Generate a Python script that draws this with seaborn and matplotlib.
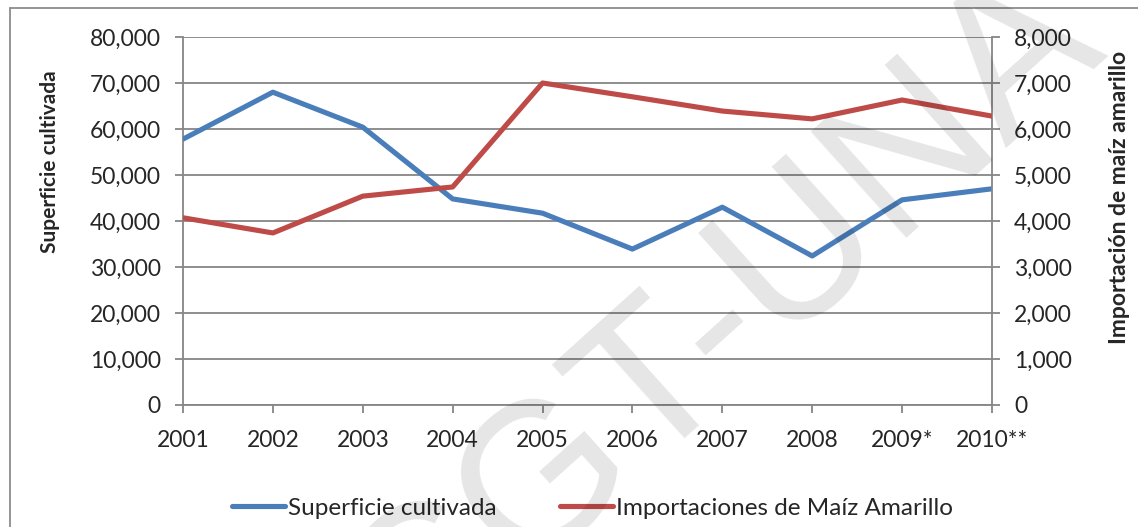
import pandas as pd
import numpy as np
import matplotlib.pyplot as plt
import seaborn as sns
from matplotlib.lines import Line2D
from matplotlib.ticker import FuncFormatter

years      = ["2001", "2002", "2003", "2004", "2005", "2006", "2007", "2008", "2009*", "2010**"]
superficie = [57800, 68000, 60400, 44800, 41700, 33900, 43000, 32400, 44600, 47000]
importac   = [4070, 3740, 4540, 4740, 7000, 6700, 6390, 6220, 6630, 6280]

frame = pd.DataFrame({"year": years, "pos": range(len(years)),
                      "superficie": superficie, "importacion": importac})

sns.set_style("white")
plt.rcParams['font.family'] = ['Lato', 'DejaVu Sans']

blue = "#4a7ebb"
red  = "#be4b48"
grid = "#868686"

fig = plt.figure(figsize=(11.38, 5.27), dpi=100)
ax = fig.add_axes([0.1608, 0.2315, 0.8717 - 0.1608, 0.9298 - 0.2315])
ax2 = ax.twinx()

sns.lineplot(data=frame, x="pos", y="superficie", color=blue, lw=3.7, ax=ax, zorder=3)
sns.lineplot(data=frame, x="pos", y="importacion", color=red, lw=3.7, ax=ax2, zorder=3)

ax.set_xlim(0, len(years) - 1)
ax.set_ylim(0, 80000)
ax2.set_ylim(0, 8000)
ax.set_yticks(np.arange(0, 80001, 10000))
ax2.set_yticks(np.arange(0, 8001, 1000))
fmt = FuncFormatter(lambda v, p: "{:,.0f}".format(v))
ax.yaxis.set_major_formatter(fmt)
ax2.yaxis.set_major_formatter(fmt)
ax.set_xticks(range(len(years)))
ax.set_xticklabels(years)

ax.grid(axis="y", color=grid, lw=1.3)
ax.set_axisbelow(True)
for a in (ax, ax2):
    for s in a.spines.values():
        s.set_visible(False)
    a.set_xlabel("")
    a.set_ylabel("")
ax.spines["left"].set_visible(True)
ax.spines["bottom"].set_visible(True)
ax2.spines["right"].set_visible(True)
for s in (ax.spines["left"], ax.spines["bottom"], ax2.spines["right"]):
    s.set_color(grid)
    s.set_linewidth(1.3)

ax.tick_params(axis="y", left=True, length=6, width=1.3, color=grid, pad=10, labelsize=16.5)
ax.tick_params(axis="x", bottom=True, length=6, width=1.3, color=grid, pad=12, labelsize=16.5)
ax2.tick_params(axis="y", right=True, length=6, width=1.3, color=grid, pad=10, labelsize=16.5)

fig.text(0.044, 0.693, "Superficie cultivada", rotation=90, ha="center", va="center",
         fontsize=15, fontweight="bold")
fig.text(0.984, 0.625, "Importación de maíz amarillo", rotation=90, ha="center", va="center",
         fontsize=16.5, fontweight="bold")

handles = [Line2D([], [], color=blue, lw=3.7), Line2D([], [], color=red, lw=3.7)]
fig.legend(handles, ["Superficie cultivada", "Importaciones de Maíz Amarillo"],
           loc="center", bbox_to_anchor=(0.5205, 0.036), ncol=2, frameon=False,
           fontsize=17.5, handlelength=2.2, handletextpad=0.1, columnspacing=2.6)

# chart border (Excel chart area)
fig.add_artist(Line2D([10 / 1138, 10 / 1138], [0, 1 - 8 / 527], color="#8c8c8c", lw=1.3,
                      transform=fig.transFigure))
fig.add_artist(Line2D([10 / 1138, 1], [1 - 8 / 527, 1 - 8 / 527], color="#8c8c8c", lw=1.3,
                      transform=fig.transFigure))

# watermark
fig.text(722 / 1138, 1 - 322 / 527, "CGT-UNA", rotation=42, rotation_mode="anchor",
         ha="center", va="center", fontsize=150, family="Liberation Sans",
         color="black", alpha=0.1, zorder=10)

fig.savefig("out.png", dpi=100)
